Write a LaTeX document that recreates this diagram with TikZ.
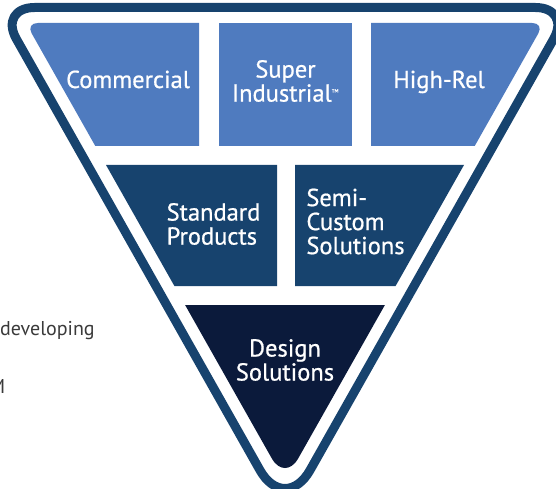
\documentclass[tikz,border=0pt]{standalone}
\usepackage{fontspec}
\setmainfont{PT Sans}
\newfontfamily\tierfont[FakeBold=0.7]{PT Sans}
\definecolor{relblue}{HTML}{4F7BBF}
\definecolor{stdblue}{HTML}{17436E}
\definecolor{dsnavy}{HTML}{0B1A3B}
\definecolor{bodygray}{HTML}{3A3A3A}

\tikzset{
    outline/.style={draw=stdblue, line width=9pt, line join=round},
    tier/.style={text=white, font=\tierfont\fontsize{24.5}{24}\selectfont, inner sep=0pt},
    bodytext/.style={text=bodygray, font=\fontsize{20}{24}\selectfont, inner sep=0pt},
}

\begin{document}
\begin{tikzpicture}[x=1pt, y=-1pt]
        \useasboundingbox (0,0) rectangle (556,489);
        % outer frame
        \draw[outline] (285,7.5) [rounded corners=36pt] -- (571.4,7.5) [rounded corners=51pt] -- (285,514.5)
            [rounded corners=36pt] -- (-1.4,7.5) -- cycle;
        % top row
        \fill[relblue] (199,146) -- (95.3,146) [rounded corners=12pt] -- (25.8,23) [sharp corners] -- (199,23) -- cycle;
        \fill[relblue] (219,23) rectangle (352,146);
        \fill[relblue] (371,146) -- (371,23) [rounded corners=12pt] -- (544.2,23) [sharp corners] -- (474.7,146) -- cycle;
        % middle row
        \fill[stdblue] (106,165) -- (277,165) -- (277,286) -- (174.4,286) -- cycle;
        \fill[stdblue] (295,165) -- (464,165) -- (395.6,286) -- (295,286) -- cycle;
        % bottom
        \fill[dsnavy] (185.1,305) -- (384.9,305) [rounded corners=27pt] -- (285,481.8) [sharp corners] -- cycle;

        \node[tier, anchor=base] (comm) at (128,88) {Commercial};
        \node[tier, align=center] (super) at (285.5,81) {Super\\Industrial\textsuperscript{\tiny TM}};
        \node[tier, anchor=base] (hirel) at (439,88) {High-Rel};
        \node[tier, align=left] (std) at (213.5,224) {Standard\\Products};
        \node[tier, align=left] (semi) at (355.5,221.5) {Semi-\\Custom\\Solutions};
        \node[tier, align=center] (design) at (285,360) {Design\\Solutions};

        \node[bodytext, anchor=base west] (dev) at (0,335) {developing};
        \node[bodytext, anchor=base east] (cutm) at (5.5,393) {M};
\end{tikzpicture}
\end{document}
